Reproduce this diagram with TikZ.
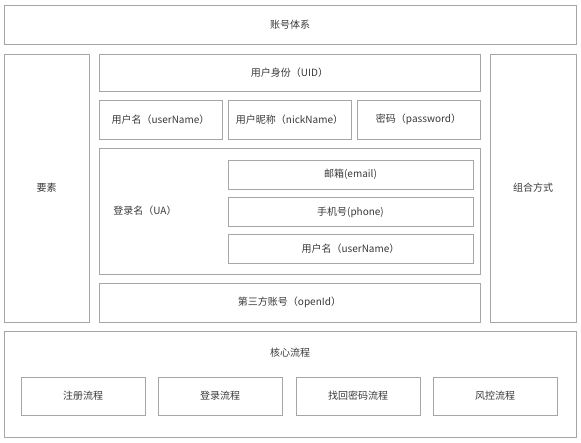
\documentclass[tikz,border=0pt]{standalone}
\usepackage{fontspec}
\setmainfont{Noto Sans CJK SC}
\definecolor{linegray}{HTML}{A6A6A6}
\definecolor{textgray}{HTML}{383838}
\tikzset{
    box/.style={draw=linegray, line width=0.9pt, inner sep=0pt, text=textgray, font=\fontsize{10}{12}\selectfont},
    label/.style={text=textgray, inner sep=0pt, font=\fontsize{10}{12}\selectfont}
}
\begin{document}
\begin{tikzpicture}[x=1pt,y=1pt]
        \useasboundingbox (0,0) rectangle (581,-442);

        \node[box, minimum width=572, minimum height=39] (system) at (290,-24.5) {账号体系};

        \node[box, minimum width=85, minimum height=268] (elements) at (46.5,-188) {要素};
        \node[box, minimum width=86, minimum height=268] (combine) at (533,-188) {组合方式};

        \node[box, minimum width=381, minimum height=37] (uid) at (289.5,-72.5) {用户身份（UID）};
        \node[box, minimum width=123, minimum height=39] (username) at (160.5,-119.5) {用户名（userName）};
        \node[box, minimum width=123, minimum height=39] (nickname) at (289.5,-119.5) {用户昵称（nickName）};
        \node[box, minimum width=123, minimum height=39] (password) at (418.5,-119.5) {密码（password）};

        \node[box, minimum width=381, minimum height=126] (ua) at (289.5,-211) {};
        \node[label] (ualabel) at (145,-211) {登录名（UA）};
        \node[box, minimum width=245, minimum height=29] (email) at (350.5,-174.5) {邮箱(email)};
        \node[box, minimum width=245, minimum height=29] (phone) at (350.5,-212) {手机号(phone)};
        \node[box, minimum width=245, minimum height=29] (uaname) at (350.5,-249) {用户名（userName）};

        \node[box, minimum width=381, minimum height=39] (openid) at (289.5,-302.5) {第三方账号（openId）};

        \node[box, minimum width=572, minimum height=106] (core) at (290,-384) {};
        \node[label] (corelabel) at (290,-353) {核心流程};
        \node[box, minimum width=124, minimum height=38] (register) at (83,-396) {注册流程};
        \node[box, minimum width=124, minimum height=38] (login) at (220,-396) {登录流程};
        \node[box, minimum width=124, minimum height=38] (retrieve) at (358,-396) {找回密码流程};
        \node[box, minimum width=124, minimum height=38] (risk) at (495,-396) {风控流程};
    \end{tikzpicture}
\end{document}
